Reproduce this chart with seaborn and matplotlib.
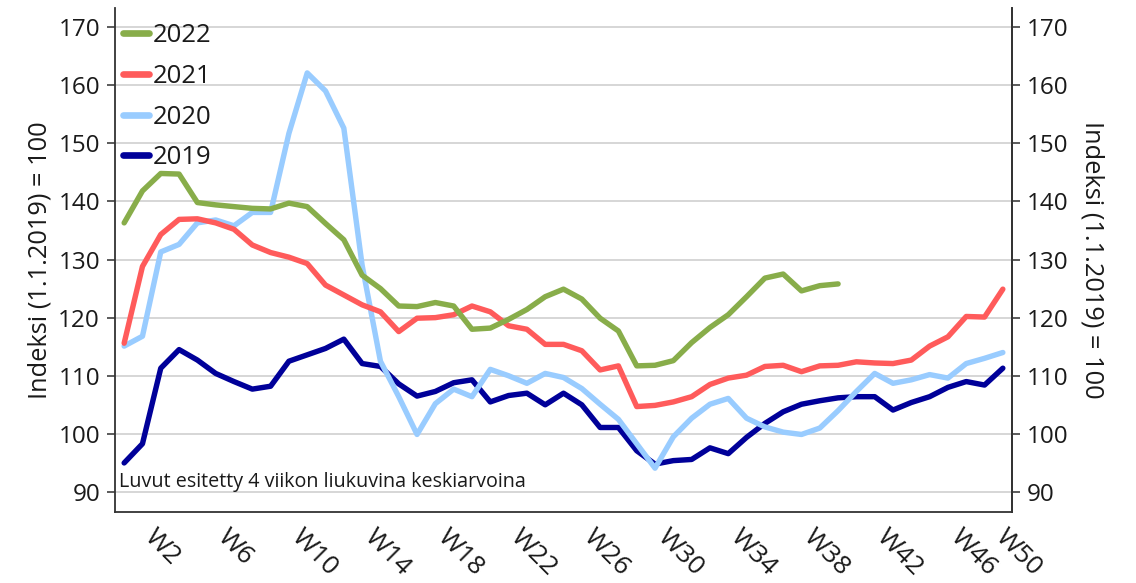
import matplotlib
matplotlib.use("Agg")
import matplotlib.pyplot as plt
import matplotlib.transforms as mtransforms
from matplotlib.lines import Line2D
import numpy as np
import pandas as pd
import seaborn as sns

# ---------------- data ----------------
weeks = ["W2", "W3", "W4", "W5", "W6", "W7", "W8", "W9", "W10", "W11", "W12", "W13",
         "W14", "W15", "W16", "W17", "W18", "W19", "W20", "W21", "W22", "W23", "W24",
         "W25", "W26", "W27", "W28", "W29", "W30", "W31", "W32", "W33", "W34", "W35",
         "W36", "W37", "W38", "W39", "W40", "W41", "W42", "W43", "W44", "W45", "W46",
         "W47", "W48", "W49", "W50"]

y2019 = [95.0, 98.3, 111.3, 114.5, 112.7, 110.4, 109.0, 107.7, 108.2, 112.5, 113.6, 114.7,
         116.3, 112.1, 111.6, 108.6, 106.5, 107.3, 108.8, 109.3, 105.5, 106.6, 107.0, 105.0,
         107.0, 105.0, 101.1, 101.1, 97.1, 94.8, 95.4, 95.6, 97.6, 96.6, 99.4, 101.8, 103.8,
         105.1, 105.7, 106.2, 106.4, 106.4, 104.1, 105.4, 106.4, 108.0, 109.0, 108.4, 111.3]

y2020 = [115.1, 116.8, 131.3, 132.6, 136.3, 136.8, 135.8, 138.1, 138.1, 151.7, 162.1, 159.0,
         152.6, 129.0, 112.5, 106.4, 99.9, 105.2, 107.7, 106.4, 111.1, 110.0, 108.7, 110.4,
         109.7, 107.8, 105.1, 102.5, 98.3, 94.1, 99.5, 102.7, 105.1, 106.1, 102.7, 101.2,
         100.3, 99.9, 101.0, 104.0, 107.3, 110.4, 108.7, 109.3, 110.2, 109.6, 112.1, 113.0, 114.0]

y2021 = [115.6, 128.8, 134.3, 136.9, 137.0, 136.3, 135.2, 132.5, 131.2, 130.4, 129.3, 125.6,
         123.9, 122.2, 121.0, 117.6, 119.9, 120.0, 120.5, 122.0, 121.0, 118.6, 118.0, 115.4,
         115.4, 114.3, 111.0, 111.7, 104.7, 104.9, 105.5, 106.4, 108.5, 109.6, 110.1, 111.6,
         111.8, 110.7, 111.7, 111.8, 112.4, 112.2, 112.1, 112.7, 115.1, 116.7, 120.2, 120.1, 124.9]

y2022 = [136.3, 141.8, 144.8, 144.7, 139.8, 139.4, 139.1, 138.8, 138.7, 139.7, 139.1, 136.2,
         133.4, 127.3, 125.0, 122.0, 121.9, 122.6, 122.0, 118.0, 118.2, 119.7, 121.4, 123.6,
         124.9, 123.2, 119.9, 117.7, 111.7, 111.8, 112.6, 115.7, 118.3, 120.5, 123.6, 126.8,
         127.5, 124.6, 125.5, 125.8]

series = {"2019": y2019, "2020": y2020, "2021": y2021, "2022": y2022}
colors = {"2019": "#000099", "2020": "#99CCFF", "2021": "#FF5B5B", "2022": "#88AD4A"}

y_ticks = [90, 100, 110, 120, 130, 140, 150, 160, 170]
y_label = "Indeksi (1.1.2019) = 100"
note = "Luvut esitetty 4 viikon liukuvina keskiarvoina"

rows = []
for yr, vals in series.items():
    for i, v in enumerate(vals):
        rows.append({"pos": i, "week": weeks[i], "year": yr, "value": v})
df = pd.DataFrame(rows)

# ---------------- style ----------------
sns.set_style("white")
plt.rcParams["font.family"] = ["Open Sans", "DejaVu Sans"]
plt.rcParams["font.stretch"] = "normal"
TXT = "#1a1a1a"

fig = plt.figure(figsize=(11.36, 5.83), dpi=100)
ax = fig.add_axes([115 / 1136, 1 - 512 / 583, (1012 - 115) / 1136, (512 - 8) / 583])

sns.lineplot(data=df, x="pos", y="value", hue="year",
             hue_order=["2019", "2020", "2021", "2022"], palette=colors,
             linewidth=3.9, legend=False, ax=ax, sort=False)

n = len(weeks)
ax.set_xlim(-0.5, n - 0.5)
ax.set_ylim(86.56, 173.27)
ax.set_yticks(y_ticks)
ax.yaxis.grid(True, color="#d0d0d0", linewidth=1.2)
ax.xaxis.grid(False)
ax.set_xlabel("")
ax.set_ylabel(y_label, fontsize=18.3, color=TXT, labelpad=4)

# category boundary ticks
ax.set_xticks([p - 0.5 for p in range(0, n, 4)])
ax.set_xticklabels([])
ax.tick_params(axis="x", which="major", direction="out", length=5.5, width=1.2, color="#404040")
# labels at category centres
ax.set_xticks(list(range(0, n, 4)), minor=True)
ax.set_xticklabels(weeks[::4], minor=True, rotation=-45, ha="left", va="top",
                   rotation_mode="anchor", fontsize=19, color=TXT)
ax.tick_params(axis="x", which="minor", length=0, pad=9)
labels = ax.get_xticklabels(minor=True)
for k, lab in enumerate(labels):
    dx = 33 if k < len(labels) - 1 else 5
    lab.set_transform(lab.get_transform() +
                      mtransforms.ScaledTranslation(dx / 100, 0, fig.dpi_scale_trans))

ax.tick_params(axis="y", direction="out", length=5.8, width=1.2, color="#404040",
               labelsize=17.5, labelcolor=TXT, pad=5)

for s in ["left", "bottom", "right"]:
    ax.spines[s].set_visible(True)
    ax.spines[s].set_color("#333333")
    ax.spines[s].set_linewidth(1.3)
ax.spines["top"].set_visible(False)

ax2 = ax.twinx()
ax2.set_ylim(ax.get_ylim())
ax2.set_yticks(y_ticks)
ax2.tick_params(axis="y", direction="out", length=5.8, width=1.2, color="#404040",
                labelsize=17.5, labelcolor=TXT, pad=5)
ax2.set_ylabel(y_label, fontsize=18.3, color=TXT, rotation=270, labelpad=26)
for s in ["left", "top", "bottom"]:
    ax2.spines[s].set_visible(False)
ax2.spines["right"].set_color("#333333")
ax2.spines["right"].set_linewidth(1.3)

ax.text(0.004, 91.7, note, transform=ax.get_yaxis_transform(), fontsize=14.2,
        color=TXT, ha="left", va="center")

handles = [Line2D([], [], color=colors[y], linewidth=4.8) for y in ["2022", "2021", "2020", "2019"]]
leg = ax.legend(handles, ["2022", "2021", "2020", "2019"], loc="upper left",
                bbox_to_anchor=(0.006, 0.975), frameon=False, fontsize=18.5,
                handlelength=1.01, handletextpad=0.16, labelspacing=0.61, borderpad=0.1,
                borderaxespad=0)
for t in leg.get_texts():
    t.set_color(TXT)

fig.savefig("out.png", dpi=100)
